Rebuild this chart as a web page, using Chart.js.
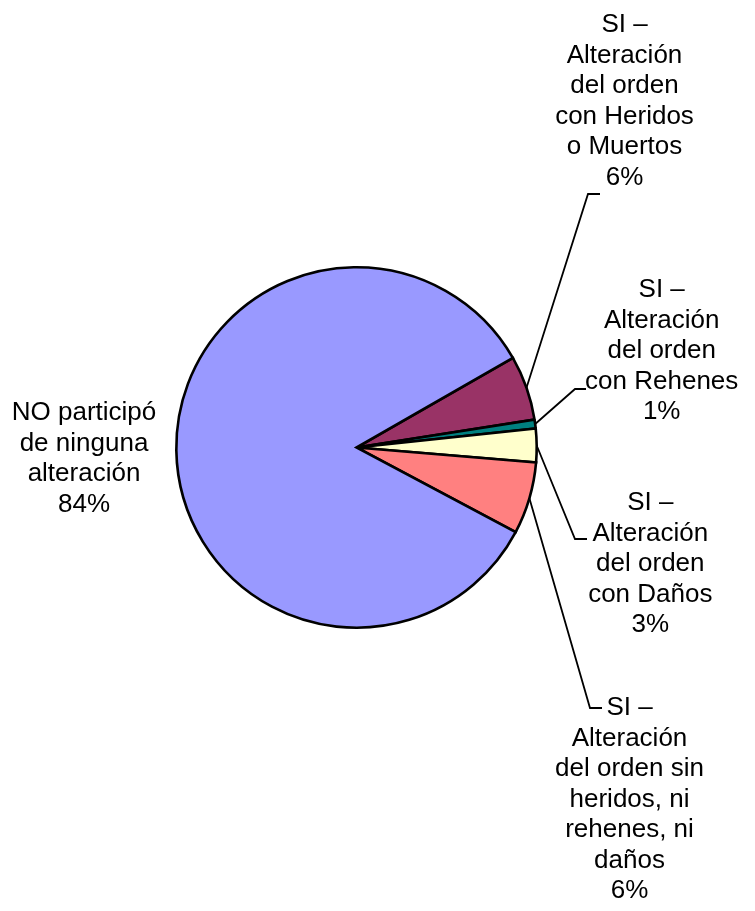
<!DOCTYPE html>
<html>
<head>
<meta charset="utf-8">
<script src="https://cdn.jsdelivr.net/npm/chart.js@4"></script>
<style>
  body { margin: 0; background: #fff; }
</style>
</head>
<body>
<canvas id="pieChart" width="755" height="911"></canvas>
<script>
// slice names (line breaks as in the original labels)
const categories = [
    "SI –\nAlteración\ndel orden\ncon Heridos\no Muertos",
    "SI –\nAlteración\ndel orden\ncon Rehenes",
    "SI –\nAlteración\ndel orden\ncon Daños",
    "SI –\nAlteración\ndel orden sin\nheridos, ni\nrehenes, ni\ndaños",
    "NO participó\nde ninguna\nalteración"
];
// share of each answer (%)
const values = [5.8, 0.8, 3.0, 6.45, 83.95];
const colors = ["#993366", "#008080", "#FFFFCC", "#FF8080", "#9999FF"];

// label anchors: centre x, first baseline, leader elbow and where its tail stops
const labelSpots = [
    {x: 624.5, y: 32,  elbow: [588, 194], end: 600},
    {x: 661.7, y: 297, elbow: [575, 389], end: 586},
    {x: 650.3, y: 510, elbow: [575, 539], end: 587},
    {x: 629.5, y: 715, elbow: [590, 708], end: 602},
    {x: 84,    y: 420, elbow: null}
];

//draws the data labels and their leader lines
const pieLabels = {
    id: "pieLabels",
    afterDatasetsDraw(chart) {
        const ctx = chart.ctx;
        const arcs = chart.getDatasetMeta(0).data;
        const total = values.reduce((a, b) => a + b, 0);
        ctx.save();
        ctx.font = "26px 'Liberation Sans', Arial, sans-serif";
        ctx.fillStyle = "#000";
        ctx.strokeStyle = "#000";
        ctx.textAlign = "center";
        ctx.textBaseline = "alphabetic";
        arcs.forEach((arc, i) => {
            const spot = labelSpots[i];
            const p = arc.getProps(["x", "y", "startAngle", "endAngle", "outerRadius"], true);
            if (spot.elbow) {
                const mid = (p.startAngle + p.endAngle) / 2;
                ctx.beginPath();
                ctx.moveTo(p.x + Math.cos(mid) * p.outerRadius, p.y + Math.sin(mid) * p.outerRadius);
                ctx.lineTo(spot.elbow[0], spot.elbow[1]);
                ctx.lineTo(spot.end, spot.elbow[1]);
                ctx.lineWidth = 1.8;
                ctx.stroke();
            }
            const lines = categories[i].split("\n").concat([Math.round(values[i] / total * 100) + "%"]);
            lines.forEach((ln, k) => ctx.fillText(ln, spot.x, spot.y + k * 30.5));
        });
        ctx.restore();
    }
};

new Chart(document.getElementById("pieChart").getContext("2d"), {
    type: "pie",
    data: {
        labels: categories,
        datasets: [{
            data: values,
            backgroundColor: colors,
            borderColor: "#000",
            borderWidth: 2.6,
            borderJoinStyle: "miter"
        }]
    },
    options: {
        responsive: false,
        animation: false,
        rotation: 60.2,
        layout: { padding: { left: 175, top: 266, right: 217, bottom: 282 } },
        plugins: {
            legend: { display: false },
            tooltip: { enabled: false }
        }
    },
    plugins: [pieLabels]
});
</script>
</body>
</html>
